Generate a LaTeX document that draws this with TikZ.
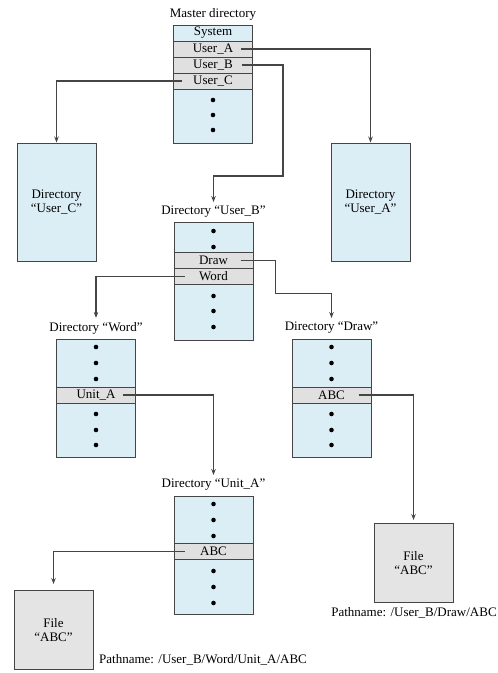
\documentclass[tikz,border=0pt]{standalone}
\usepackage{fontspec}
\setmainfont{Liberation Serif}
\usetikzlibrary{arrows.meta}
\definecolor{dirblue}{HTML}{DCEEF5}
\definecolor{rowgray}{HTML}{E0E0E0}
\definecolor{filegray}{HTML}{E4E4E4}
\definecolor{linec}{HTML}{454545}
\newcommand\dgfont{\fontsize{13}{14.5}\selectfont}
\tikzset{
  dirbox/.style={draw=linec, line width=1pt, fill=dirblue, inner sep=0pt, minimum width=79pt, minimum height=118pt, align=center, font=\dgfont},
  rowbox/.style={draw=linec, line width=1pt, fill=rowgray, inner sep=0pt, minimum width=79pt, minimum height=16pt, font=\dgfont},
  filebox/.style={draw=linec, line width=1pt, fill=filegray, inner sep=0pt, minimum width=79pt, minimum height=79pt, align=center, font=\dgfont},
  lbl/.style={font=\dgfont, inner sep=1pt},
  conn/.style={draw=linec, line width=1.2pt, -{Stealth[length=6pt,width=4.5pt]}},
  dotmark/.style={circle, fill=black, inner sep=0pt, minimum size=4.6pt}
}
\begin{document}
\begin{tikzpicture}[x=1pt,y=-1pt]
\useasboundingbox[fill=white] (0,0) rectangle (498,673);
% Master directory
\node[lbl] (lbM) at (213,14) {Master directory};
\node[dirbox] (dM) at (213,84) {};
\node[rowbox, fill=dirblue] (rSys) at (213,33) {System};
\node[rowbox] (rA) at (213,49) {User\_A};
\node[rowbox] (rB) at (213,65) {User\_B};
\node[rowbox] (rC) at (213,81) {User\_C};
\foreach \y in {100,115,130} \node[dotmark] at (213,\y) {};
% User_C and User_A directories
\node[dirbox] (dC) at (56.5,202) {Directory\\``User\_C''};
\node[dirbox] (dA) at (370.5,202) {Directory\\``User\_A''};
% User_B directory
\node[lbl] (lbB) at (213.5,212) {Directory ``User\_B''};
\node[dirbox] (dB) at (213.5,281) {};
\node[rowbox] (rDraw) at (213.5,260.5) {Draw};
\node[rowbox] (rWord) at (213.5,276.5) {Word};
\foreach \y in {231,247,296,311,327} \node[dotmark] at (213.5,\y) {};
% Word directory
\node[lbl] (lbW) at (96,328) {Directory ``Word''};
\node[dirbox] (dW) at (96,398) {};
\node[rowbox] (rUnit) at (96,395) {Unit\_A};
\foreach \y in {347,363,379,414,430,445} \node[dotmark] at (96,\y) {};
% Draw directory
\node[lbl] (lbD) at (331.5,328) {Directory ``Draw''};
\node[dirbox] (dD) at (331.5,398) {};
\node[rowbox] (rDABC) at (331.5,395) {ABC};
\foreach \y in {347,363,379,414,430,445} \node[dotmark] at (331.5,\y) {};
% Unit_A directory
\node[lbl] (lbU) at (213.5,485) {Directory ``Unit\_A''};
\node[dirbox] (dU) at (213.5,555) {};
\node[rowbox] (rUABC) at (213.5,551.5) {ABC};
\foreach \y in {504,520,536,571,587,603} \node[dotmark] at (213.5,\y) {};
% Files
\node[filebox] (f1) at (53.5,630) {File\\``ABC''};
\node[filebox] (f2) at (413.5,563) {File\\``ABC''};
\node[lbl, anchor=west] (p1) at (98,660) {Pathname: /User\_B/Word/Unit\_A/ABC};
\node[lbl] (p2) at (414,613) {Pathname: /User\_B/Draw/ABC};
% Connectors
\draw[conn] ([xshift=-12pt]rA.east) -| (dA.north);
\draw[conn] ([xshift=9pt]rC.west) -| (dC.north);
\draw[conn, shorten >=3pt] ([xshift=-11pt]rB.east) -- ++(41,0) -- ++(0,111) -| (lbB.north);
\draw[conn, shorten >=3pt] ([xshift=-13pt]rDraw.east) -- ++(35,0) -- ++(0,33) -| (lbD.north);
\draw[conn, shorten >=3pt] ([xshift=11pt]rWord.west) -| (lbW.north);
\draw[conn, shorten >=3pt] ([xshift=-13pt]rUnit.east) -| (lbU.north);
\draw[conn, shorten >=3pt] ([xshift=-13pt]rDABC.east) -| (f2.north);
\draw[conn, shorten >=6pt] ([xshift=11pt]rUABC.west) -| (f1.north);
\end{tikzpicture}
\end{document}
